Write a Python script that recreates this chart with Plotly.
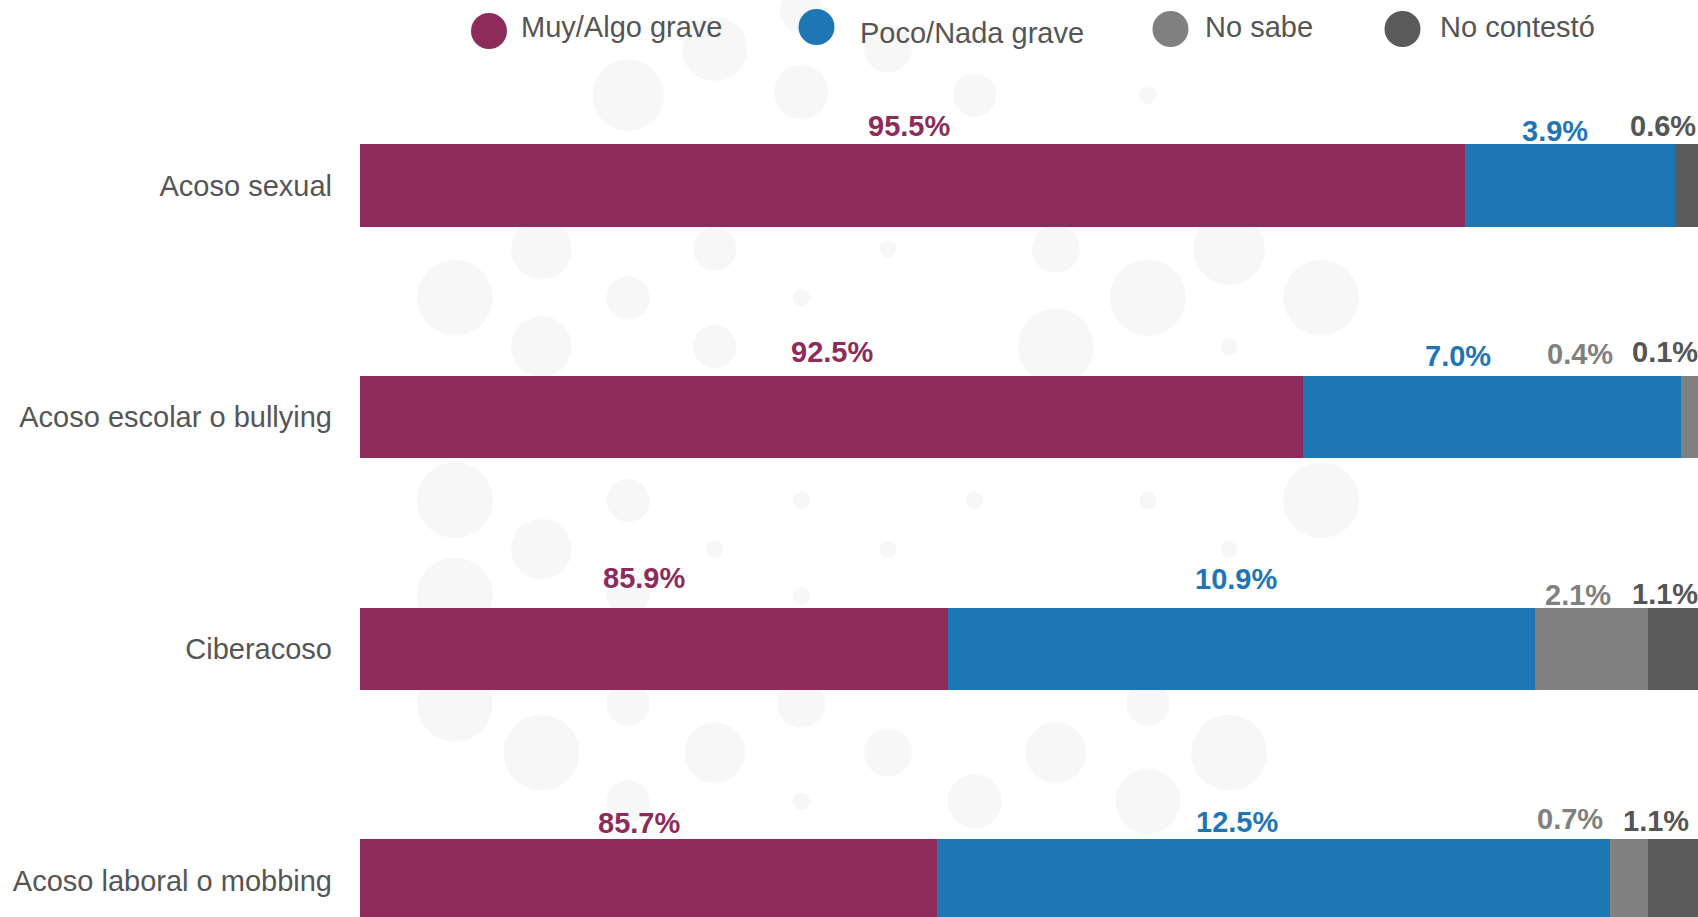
import plotly.graph_objects as go

# ---------------- data ----------------
categories = ["Acoso sexual", "Acoso escolar o bullying", "Ciberacoso", "Acoso laboral o mobbing"]
series_names = ["Muy/Algo grave", "Poco/Nada grave", "No sabe", "No contestó"]
muy_algo = [95.5, 92.5, 85.9, 85.7]
poco_nada = [3.9, 7.0, 10.9, 12.5]
no_sabe = [0.0, 0.4, 2.1, 0.7]
no_contesto = [0.6, 0.1, 1.1, 1.1]

# ---------------- style ----------------
bar_colors = ["#8D2C5A", "#1F76B4", "#808080", "#5A5A5A"]
label_colors = ["#8D2C5A", "#1F76B4", "#808080", "#555555"]
FONT = "Liberation Sans, Arial, Helvetica, sans-serif"
FS = 29
PAGE_W, PAGE_H = 1698, 917
OFF = 0                      # body margin removed via post_script
W, H = PAGE_W - OFF, PAGE_H - OFF
LEFT = 360 - OFF
PX_PER_UNIT = 53.9
XMIN = 75
XMAX = XMIN + (W - LEFT) / PX_PER_UNIT
ROW0 = 185.5 - OFF           # pixel centre of first row (figure coords)
ROW_STEP = 231.67

# label placement tweaks (pixels): horizontal shift, and height of label centre above bar centre
label_dx = [[-3, -15.5, 0, -28], [0, -34, -111, -39.5], [-10, -5.5, -14, -12.5], [-9, -37, -59, -21.5]]
label_dy = [[58.5, 53.5, 0, 58.5], [64, 60, 62, 64], [69.5, 68.5, 53, 53.5], [57, 57.5, 60.5, 58.5]]

series = [muy_algo, poco_nada, no_sabe, no_contesto]

fig = go.Figure()
for name, vals, col in zip(series_names, series, bar_colors):
    fig.add_trace(go.Bar(
        y=categories, x=vals, orientation="h", name=name,
        marker=dict(color=col, line=dict(width=0)),
        showlegend=False, hoverinfo="skip",
    ))

# value labels
annotations = []
for i, cat in enumerate(categories):
    base = 0.0
    for s, vals in enumerate(series):
        v = vals[i]
        if v > 0:
            start = max(base, XMIN)
            center = (start + base + v) / 2
            anchor = min(center, XMAX - 0.05)
            extra = (center - anchor) * PX_PER_UNIT
            annotations.append(dict(
                x=anchor, y=cat, xref="x", yref="y",
                text=f"{v:.1f}%", showarrow=False,
                xanchor="center", yanchor="middle",
                xshift=label_dx[i][s] + extra, yshift=label_dy[i][s] + 1,
                font=dict(family=FONT, size=FS, color=label_colors[s], weight="bold"),
            ))
        base += v

# ---------------- manual legend ----------------
legend_circle_px = [(489, 31), (816.5, 27), (1170.5, 29), (1402.5, 29)]
legend_text_px = [(519, 27), (858, 33), (1203, 27.5), (1438, 27.5)]
R_LEG = 18


def px2paper(px, py):
    # page pixel -> paper coords of the plot area
    return (px - OFF - LEFT) / (W - LEFT), 1 - (py - OFF) / H


shapes = []
# faint decorative background dots (watermark)
bg_dots = [
    (580, 88, 33), (660, 45, 30), (740, 85, 25), (820, 45, 22), (900, 88, 20), (1060, 88, 8),
    (740, 10, 20), (500, 230, 28), (660, 230, 20), (820, 230, 8), (975, 230, 22), (1135, 230, 33),
    (420, 275, 35), (580, 275, 20), (740, 275, 8), (1060, 275, 35), (1220, 275, 35),
    (500, 320, 28), (660, 320, 20), (975, 320, 35), (1135, 320, 8),
    (420, 462, 35), (580, 462, 20), (740, 462, 8), (900, 462, 8), (1060, 462, 8), (1220, 462, 35),
    (500, 507, 28), (660, 507, 8), (820, 507, 8), (1135, 507, 8),
    (420, 550, 35), (580, 550, 20), (740, 550, 8),
    (420, 650, 35), (580, 650, 20), (740, 650, 22), (1060, 650, 20),
    (500, 695, 35), (660, 695, 28), (820, 695, 22), (975, 695, 28), (1135, 695, 35),
    (580, 740, 20), (740, 740, 8), (900, 740, 25), (1060, 740, 30),
]
S = PAGE_W / 1568
for (cx, cy, r) in bg_dots:
    cx, cy, r = cx * S, cy * S, r * S
    x0, y1 = px2paper(cx - r, cy - r)
    x1, y0 = px2paper(cx + r, cy + r)
    shapes.append(dict(type="circle", xref="paper", yref="paper", x0=x0, x1=x1, y0=y0, y1=y1,
                       fillcolor="#f7f7f7", line=dict(width=0), layer="below"))

for (cx, cy), col in zip(legend_circle_px, bar_colors):
    x0, y1 = px2paper(cx - R_LEG, cy - R_LEG)
    x1, y0 = px2paper(cx + R_LEG, cy + R_LEG)
    shapes.append(dict(type="circle", xref="paper", yref="paper", x0=x0, x1=x1, y0=y0, y1=y1,
                       fillcolor=col, line=dict(width=0)))
for (tx, ty), name in zip(legend_text_px, series_names):
    px, py = px2paper(tx, ty)
    annotations.append(dict(x=px, y=py, xref="paper", yref="paper", text=name, showarrow=False,
                            xanchor="left", yanchor="middle",
                            font=dict(family=FONT, size=FS, color="#555555")))

fig.update_layout(
    width=W, height=H,
    margin=dict(l=LEFT, r=0, t=0, b=0, pad=0),
    paper_bgcolor="white", plot_bgcolor="rgba(0,0,0,0)",
    barmode="stack", bargap=0.644,
    showlegend=False,
    annotations=annotations, shapes=shapes,
    xaxis=dict(range=[XMIN, XMAX], visible=False, fixedrange=True),
    yaxis=dict(
        type="category", categoryorder="array", categoryarray=categories,
        range=[(H - ROW0) / ROW_STEP, -ROW0 / ROW_STEP],
        showgrid=False, zeroline=False, showline=False, ticks="",
        ticklabelstandoff=27, fixedrange=True,
        tickfont=dict(family=FONT, size=FS, color="#555555"),
    ),
    font=dict(family=FONT),
)

fig.write_html(
    "out.html",
    config={"displayModeBar": False, "staticPlot": True},
    post_script="document.body.style.margin='0';document.body.style.overflow='hidden';"
                "document.documentElement.style.overflow='hidden';",
)
